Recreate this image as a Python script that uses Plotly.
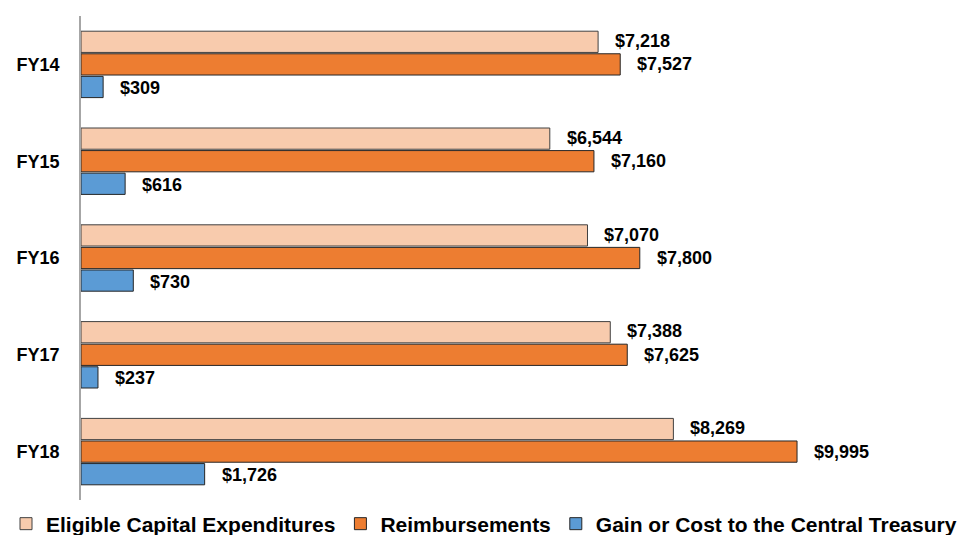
import plotly.graph_objects as go

years = ["FY14", "FY15", "FY16", "FY17", "FY18"]
eligible = [7218, 6544, 7070, 7388, 8269]
reimb = [7527, 7160, 7800, 7625, 9995]
gain = [309, 616, 730, 237, 1726]

series = [
    ("Eligible Capital Expenditures", eligible, "#F8CBAD", "#404040"),
    ("Reimbursements", reimb, "#ED7D31", "#262626"),
    ("Gain or Cost to the Central Treasury", gain, "#5B9BD5", "#262626"),
]

FONT = "Liberation Sans, Arial, sans-serif"

fig = go.Figure()
for name, vals, col, lc in series:
    fig.add_trace(go.Bar(
        y=years, x=vals, name=name, orientation="h",
        marker=dict(color=col, line=dict(color=lc, width=1)),
    ))

shifts = [23.5, 0, -23.5]
annotations = []
for (name, vals, col, lc), ys in zip(series, shifts):
    for yr, v in zip(years, vals):
        annotations.append(dict(
            x=v, y=yr, xref="x", yref="y", text=f"${v:,}",
            showarrow=False, xanchor="left", yanchor="middle",
            xshift=15, yshift=ys,
            font=dict(family=FONT, size=18, color="black", weight="bold"),
        ))

fig.update_layout(
    width=977, height=535,
    margin=dict(l=81, r=0, t=16, b=35, autoexpand=False),
    barmode="group", bargap=0.3, bargroupgap=0.06,
    plot_bgcolor="white", paper_bgcolor="white",
    annotations=annotations,
    legend=dict(orientation="h", x=-0.0837, xanchor="left", y=-0.0496, yanchor="middle",
                font=dict(family=FONT, size=21, color="black", weight="bold"),
                itemwidth=30, tracegroupgap=0, entrywidth=0, bgcolor="rgba(0,0,0,0)"),
    xaxis=dict(range=[0, 12507], showgrid=False, showticklabels=False, zeroline=False,
               showline=False, fixedrange=True, automargin=False),
    yaxis=dict(autorange="reversed", showline=True, linecolor="#a6a6a6", linewidth=1.5,
               ticks="", ticklabelstandoff=16, automargin=False,
               tickfont=dict(family=FONT, size=18, color="black", weight="bold")),
    showlegend=True,
)

fig.write_html("out.html", config={"displayModeBar": False},
               post_script="document.body.style.margin='0';")
